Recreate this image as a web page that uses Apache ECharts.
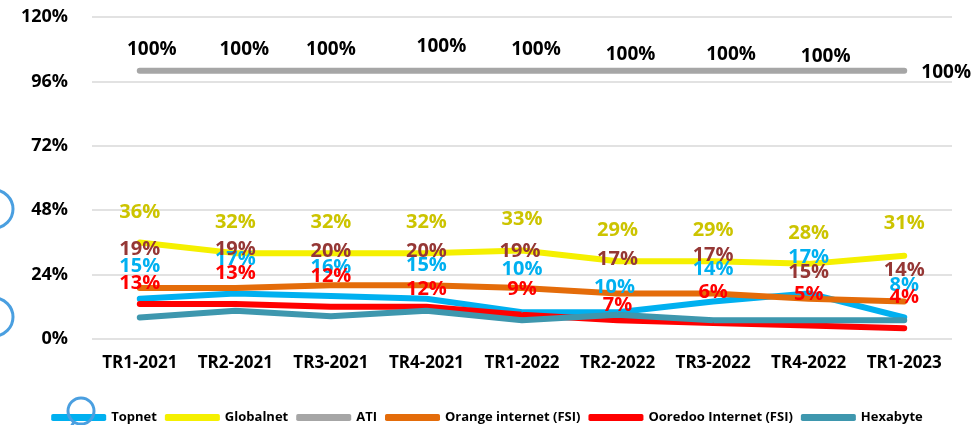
<!DOCTYPE html>
<html>
<head>
<meta charset="utf-8">
<script src="https://cdn.jsdelivr.net/npm/echarts@6/dist/echarts.min.js"></script>
<style>
  html, body { margin: 0; padding: 0; background: #ffffff; }
  #chart { width: 974px; height: 425px; }
</style>
</head>
<body>
<div id="chart"></div>
<script>
// ---- Data ----
var categories = ['TR1-2021','TR2-2021','TR3-2021','TR4-2021','TR1-2022','TR2-2022','TR3-2022','TR4-2022','TR1-2023'];
var topnet    = [15, 17, 16, 15, 10, 10, 14, 17, 8];
var globalnet = [36, 32, 32, 32, 33, 29, 29, 28, 31];
var ati       = [100, 100, 100, 100, 100, 100, 100, 100, 100];
var orange    = [19, 19, 20, 20, 19, 17, 17, 15, 14];
var ooredoo   = [13, 13, 12, 12, 9, 7, 6, 5, 4];
var hexabyte  = [8, 10.5, 8.5, 10.5, 7, 9, 7, 7, 7];
var yTicks = [0, 24, 48, 72, 96, 120];

// ---- Label placement (style, not data) ----
var off = {
  ati:     { dx: [12, 9, 0, 15, 14, 13, 18, 17, 42], dy: [-21, -21, -21, -24, -21, -16, -16, -14, 2] },
  global:  { dx: [0,0,0,0,0,0,0,0,0], dy: [-30, -31, -31, -31, -31, -31, -31, -31, -33] },
  orange:  { dx: [0,0,0,0,-2,0,0,0,0], dy: [-39, -39, -34, -34, -37, -34, -38, -26, -31] },
  topnet:  { dx: [0,0,0,0,0,-3,0,0,0], dy: [-32, -34, -29, -33, -43, -25, -32, -36, -32] },
  ooredoo: { dx: [0,0,0,0,0,0,0,0,0], dy: [-21, -31, -31, -18, -26, -15, -31, -31, -31] }
};

var FONT = '"Open Sans", "Noto Sans", Lato, sans-serif';

function withLabels(values, o) {
  return values.map(function (v, i) {
    return { value: v, label: { offset: [o.dx[i], o.dy[i]] } };
  });
}

function makeSeries(name, values, color, o, labelColor, labelSize) {
  return {
    name: name,
    type: 'line',
    data: o ? withLabels(values, o) : values,
    symbol: 'circle',
    symbolSize: 1,
    showSymbol: true,
    itemStyle: { color: color },
    lineStyle: { color: color, width: 6, cap: 'round', join: 'round' },
    label: {
      show: !!o,
      position: 'inside',
      formatter: function (p) { return Math.round(p.value) + '%'; },
      color: labelColor,
      fontFamily: FONT,
      fontWeight: 'bold',
      fontSize: labelSize
    },
    emphasis: { disabled: true },
    animation: false
  };
}

var chart = echarts.init(document.getElementById('chart'), null, { renderer: 'canvas' });
chart.setOption({
  backgroundColor: '#ffffff',
  animation: false,
  grid: { left: 92, right: 22, top: 17, bottom: 86, outerBoundsMode: 'none' },
  xAxis: {
    type: 'category',
    data: categories,
    boundaryGap: true,
    axisLine: { show: false },
    axisTick: { show: false },
    axisLabel: { color: '#000', fontFamily: FONT, fontWeight: 'bold', fontSize: 17, margin: 16, interval: 0 }
  },
  yAxis: {
    type: 'value',
    min: yTicks[0],
    max: yTicks[yTicks.length - 1],
    interval: yTicks[1] - yTicks[0],
    axisLine: { show: false },
    axisTick: { show: false },
    axisLabel: { color: '#000', fontFamily: FONT, fontWeight: 'bold', fontSize: 18, margin: 24, formatter: '{value}%' },
    splitLine: { lineStyle: { color: '#D9D9D9', width: 1.5 } }
  },
  legend: {
    top: 406,
    left: 'center',
    icon: 'roundRect',
    itemWidth: 55,
    itemHeight: 7,
    itemGap: 8,
    textStyle: { color: '#000', fontFamily: FONT, fontWeight: 'bold', fontSize: 13 },
    data: ['Topnet', 'Globalnet', 'ATI', 'Orange internet (FSI)', 'Ooredoo Internet (FSI)', 'Hexabyte']
  },
  series: [
    makeSeries('Topnet', topnet, '#00B0F0', off.topnet, '#00B0F0', 20),
    makeSeries('Globalnet', globalnet, '#F5F000', off.global, '#CCC400', 20),
    makeSeries('ATI', ati, '#A6A6A6', off.ati, '#000000', 19),
    makeSeries('Orange internet (FSI)', orange, '#E46C0A', off.orange, '#953735', 20),
    makeSeries('Ooredoo Internet (FSI)', ooredoo, '#FF0000', off.ooredoo, '#FF0000', 20),
    makeSeries('Hexabyte', hexabyte, '#3E97AE', null, '#3E97AE', 20)
  ],
  graphic: [
    { type: 'circle', z: 100, shape: { cx: -6, cy: 209, r: 19 }, style: { fill: 'none', stroke: '#4A9FE0', lineWidth: 3 } },
    { type: 'circle', z: 100, shape: { cx: -6, cy: 317, r: 19 }, style: { fill: 'none', stroke: '#4A9FE0', lineWidth: 3 } },
    { type: 'circle', z: 100, shape: { cx: 81, cy: 411, r: 13 }, style: { fill: 'none', stroke: '#4A9FE0', lineWidth: 3 } },
    { type: 'line', z: 100, shape: { x1: 74, y1: 422, x2: 69, y2: 430 }, style: { stroke: '#4A9FE0', lineWidth: 3 } }
  ]
});
</script>
</body>
</html>
